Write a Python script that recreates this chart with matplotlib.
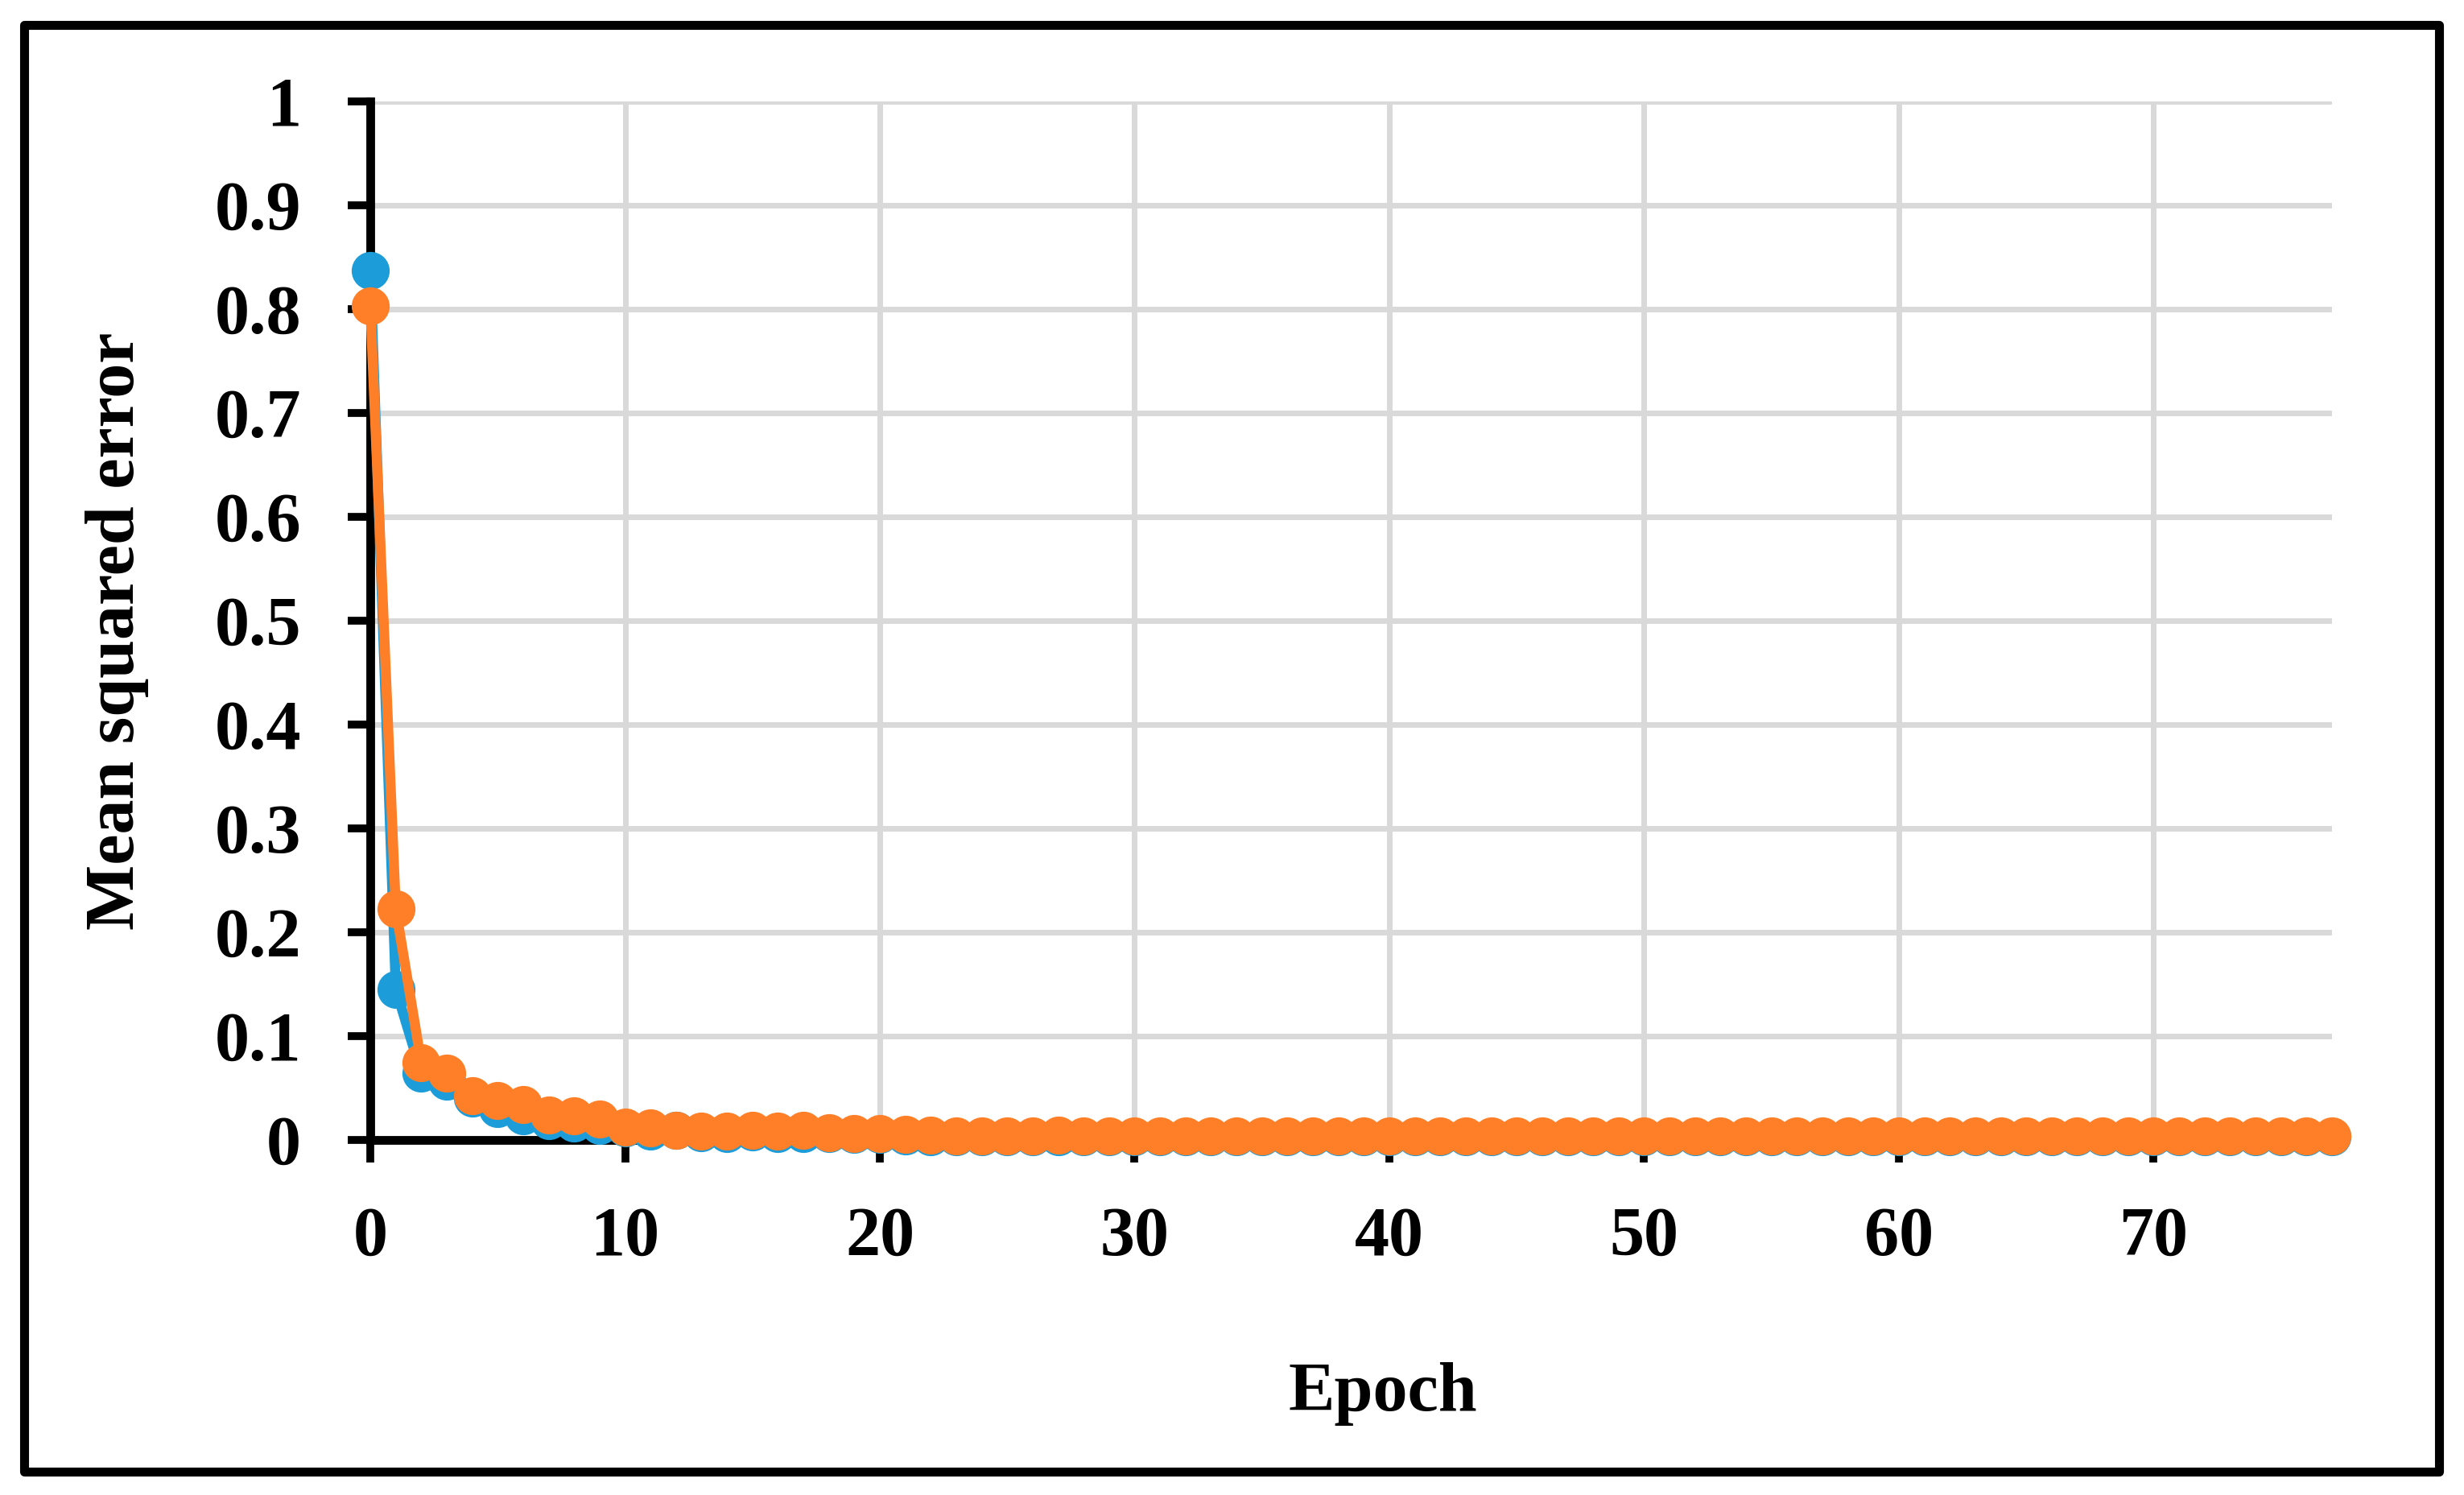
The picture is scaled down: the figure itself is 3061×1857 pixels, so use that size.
import matplotlib.pyplot as plt
from matplotlib.patches import Rectangle
from matplotlib.ticker import FuncFormatter

# training history (epochs 0..77)
epochs = list(range(78))

blue_mse = [0.837, 0.145, 0.064, 0.056, 0.040, 0.030, 0.023, 0.018, 0.016, 0.014,
            0.011, 0.008, 0.009, 0.0065, 0.006, 0.0075, 0.0055, 0.0057, 0.0057, 0.005,
            0.005, 0.0035, 0.003, 0.003, 0.003, 0.003, 0.0025, 0.003, 0.003, 0.0025,
            0.0025, 0.0025, 0.0025, 0.0025, 0.0025, 0.0025, 0.0025, 0.0025, 0.0025, 0.0025,
            0.0025, 0.0025, 0.0025, 0.0025, 0.0025, 0.0025, 0.0025, 0.0025, 0.0025, 0.0025,
            0.0025, 0.0025, 0.0025, 0.0025, 0.0025, 0.0025, 0.0025, 0.0025, 0.0025, 0.0025,
            0.0025, 0.0025, 0.0025, 0.0025, 0.0025, 0.0025, 0.0025, 0.0025, 0.0025, 0.0025,
            0.0025, 0.0025, 0.0025, 0.0025, 0.0025, 0.0025, 0.0025, 0.0025]

orange_mse = [0.803, 0.222, 0.074, 0.064, 0.042, 0.038, 0.034, 0.024, 0.023, 0.020,
              0.012, 0.011, 0.009, 0.008, 0.008, 0.009, 0.0085, 0.009, 0.007, 0.0055,
              0.0055, 0.0048, 0.004, 0.0035, 0.0035, 0.0035, 0.0038, 0.004, 0.0035, 0.0033,
              0.0033, 0.0035, 0.0033, 0.0033, 0.0033, 0.0033, 0.0033, 0.0033, 0.0033, 0.0033,
              0.0033, 0.0033, 0.0033, 0.0033, 0.0033, 0.0033, 0.0033, 0.0033, 0.0033, 0.0033,
              0.0033, 0.0033, 0.0033, 0.0033, 0.0033, 0.0033, 0.0033, 0.0033, 0.0033, 0.0033,
              0.0033, 0.0033, 0.0033, 0.0033, 0.0033, 0.0033, 0.0033, 0.0033, 0.0033, 0.0033,
              0.0033, 0.0033, 0.0033, 0.0033, 0.0033, 0.0033, 0.0033, 0.0033]

x_ticks = [0, 10, 20, 30, 40, 50, 60, 70]
y_ticks = [0, 0.1, 0.2, 0.3, 0.4, 0.5, 0.6, 0.7, 0.8, 0.9, 1.0]

plt.rcParams['font.family'] = ['Liberation Serif', 'DejaVu Serif']
plt.rcParams['font.weight'] = 'bold'

fig = plt.figure(figsize=(15.305, 9.285), dpi=200)
ax = fig.add_axes([0.1503, 0.2377, 0.7961, 0.6947])

# series: blue first, orange drawn over it
ax.plot(epochs, blue_mse, color='#1c9dd9', lw=4.5, marker='o', ms=17,
        mew=0, clip_on=False, zorder=3)
ax.plot(epochs, orange_mse, color='#fe7f27', lw=4.5, marker='o', ms=17,
        mew=0, clip_on=False, zorder=4)

ax.set_xlim(0, 77)
ax.set_ylim(0, 1)
ax.set_xticks(x_ticks)
ax.set_yticks(y_ticks)
ax.yaxis.set_major_formatter(FuncFormatter(lambda v, p: f'{v:g}'))

ax.grid(True, color='#d9d9d9', lw=2.5)
ax.set_axisbelow(True)

for side in ['top', 'right']:
    ax.spines[side].set_visible(False)
for side in ['left', 'bottom']:
    ax.spines[side].set_linewidth(3.9)
    ax.spines[side].set_color('black')

ax.tick_params(axis='both', direction='out', length=10, width=3.5,
               labelsize=31, color='black')
ax.tick_params(axis='y', pad=21)
ax.tick_params(axis='x', pad=20)

ax.set_xlabel('Epoch', fontsize=31, fontweight='bold', va='center')
ax.xaxis.set_label_coords(0.516, -0.2446)
ax.set_ylabel('Mean squared error', fontsize=31, fontweight='bold', va='center')
ax.yaxis.set_label_coords(-0.1289, 0.49)

# outer frame around the whole figure
frame = Rectangle((30 / 3061, 1 - 1828 / 1857), 3000 / 3061, 1797 / 1857,
                  transform=fig.transFigure, fill=False, edgecolor='black',
                  lw=4, joinstyle='round')
fig.patches.append(frame)

fig.savefig('out.png', dpi=200)
